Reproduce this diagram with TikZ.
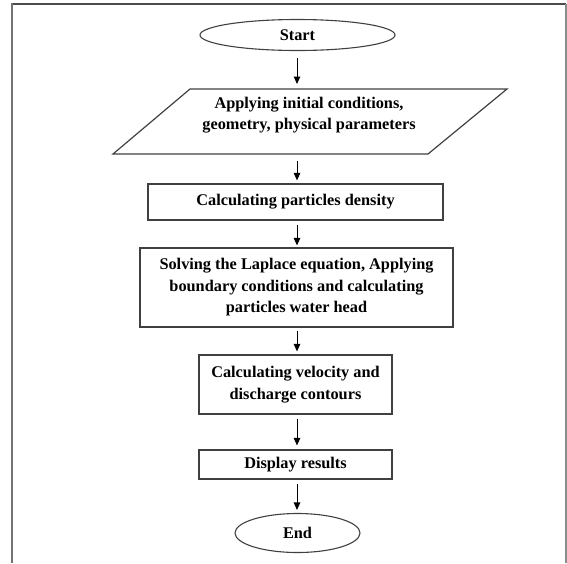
\documentclass[tikz,border=0pt]{standalone}
\usepackage{fontspec}
\setmainfont{Liberation Serif}
\usetikzlibrary{shapes.geometric,arrows.meta}
\begin{document}
\begin{tikzpicture}[x=1pt,y=-1pt,
  txt/.style={font=\bfseries\fontsize{16.3}{21.5}\selectfont, align=center, text=black},
  procbox/.style={txt, draw=black!75, line width=1.2pt, rectangle, inner sep=0pt},
  termbox/.style={txt, draw=black!75, line width=1.1pt, ellipse, inner sep=0pt},
  flow/.style={-{Triangle[length=7.5pt,width=6.5pt]}, line width=1pt, black}]
\useasboundingbox (0,0) rectangle (567,563);
% frame
\draw[black!70, line width=2pt] (11,4) -- (566,4);
\draw[black!55, line width=2.6pt] (12,3) -- (12,563);
\draw[black!45, line width=1.4pt] (566,4) -- (566,563);
% nodes
\node[termbox, minimum width=195pt, minimum height=31pt] (start) at (297.5,35) {Start};
\coordinate (p1) at (113,154);
\coordinate (p2) at (190,89);
\coordinate (p3) at (507,89);
\coordinate (p4) at (428,154);
\draw[draw=black!75, line width=1.2pt] (p1) -- (p2) -- (p3) -- (p4) -- cycle;
\coordinate (ptop) at (297,89);
\coordinate (pbot) at (297,154);
\node[txt] (input) at (309,115) {Applying initial conditions,\\geometry, physical parameters};
\node[procbox, minimum width=295pt, minimum height=36pt] (b1) at (295.5,202) {Calculating particles density};
\node[procbox, minimum width=313pt, minimum height=79pt] (b2) at (296.5,287.5) {Solving the Laplace equation, Applying\\boundary conditions and calculating\\particles water head};
\node[procbox, minimum width=193pt, minimum height=59pt] (b3) at (295.5,384.5) {Calculating velocity and\\discharge contours};
\node[procbox, minimum width=193pt, minimum height=29pt] (b4) at (295.5,464.5) {Display results};
\node[termbox, minimum width=125pt, minimum height=39pt] (end) at (297.5,533) {End};
% connectors
\draw[flow, shorten <=7pt, shorten >=5pt] (ptop |- start.south) -- (ptop);
\draw[flow, shorten <=7pt, shorten >=3pt] (pbot) -- (pbot |- b1.north);
\draw[flow, shorten <=4pt, shorten >=2pt] (pbot |- b1.south) -- (pbot |- b2.north);
\draw[flow, shorten <=3pt, shorten >=3pt] (pbot |- b2.south) -- (pbot |- b3.north);
\draw[flow, shorten <=4pt, shorten >=4pt] (pbot |- b3.south) -- (pbot |- b4.north);
\draw[flow, shorten <=4pt, shorten >=3pt] (pbot |- b4.south) -- (pbot |- end.north);
\end{tikzpicture}
\end{document}
